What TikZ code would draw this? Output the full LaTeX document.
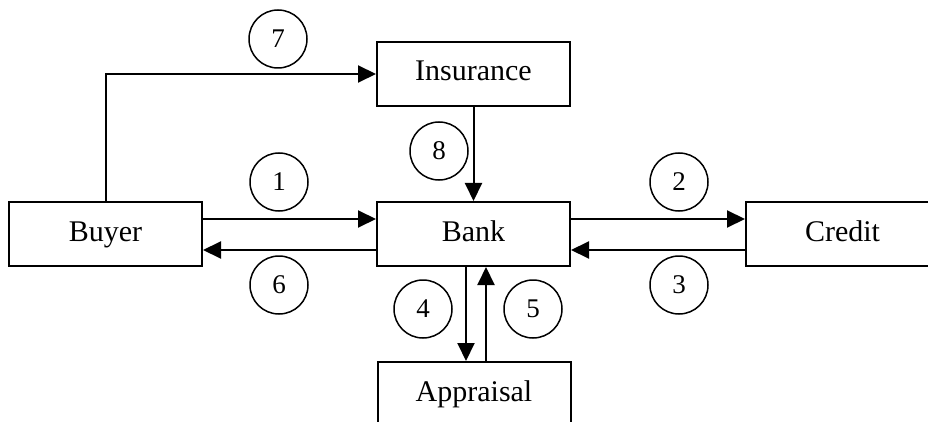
\documentclass[tikz,border=0pt]{standalone}
\usepackage{fontspec}
\setmainfont{Liberation Serif}
\usetikzlibrary{arrows.meta}
\begin{document}
\begin{tikzpicture}[x=1pt, y=-1pt,
  party/.style={draw, line width=2pt, minimum width=193pt, minimum height=64pt,
    inner sep=0pt, text height=21pt, text depth=7pt,
    font=\fontsize{30}{32}\selectfont},
  stepnum/.style={draw, circle, line width=1.5pt, minimum size=58pt, inner sep=0pt,
    font=\fontsize{27}{29}\selectfont},
  flow/.style={line width=2pt, -{Triangle[length=18pt, width=17pt]}}]
\useasboundingbox (0,0) rectangle (928,422);
\clip (0,0) rectangle (928,422);
\fill[white] (0,0) rectangle (928,422);

% parties
\node[party] (buyer) at (105.5,234) {Buyer};
\node[party] (bank) at (473.5,234) {Bank};
\node[party] (credit) at (842.5,234) {Credit};
\node[party] (insurance) at (473.5,74) {Insurance};
\node[party] (appraisal) at (474,394) {Appraisal};

% message flows
\draw[flow] (buyer.north) |- (insurance.west);
\draw[flow] (insurance.south) -- (bank.north);
\draw[flow] ([yshift=15pt]buyer.east) -- ([yshift=15pt]bank.west);
\draw[flow] ([yshift=-16pt]bank.west) -- ([yshift=-16pt]buyer.east);
\draw[flow] ([yshift=15pt]bank.east) -- ([yshift=15pt]credit.west);
\draw[flow] ([yshift=-16pt]credit.west) -- ([yshift=-16pt]bank.east);
\draw[flow] ([xshift=-7.5pt]bank.south) -- ([xshift=-8pt]appraisal.north);
\draw[flow] ([xshift=12pt]appraisal.north) -- ([xshift=12.5pt]bank.south);

% step numbers
\node[stepnum] (s1) at (279,182) {1};
\node[stepnum] (s2) at (679,182) {2};
\node[stepnum] (s3) at (679,285) {3};
\node[stepnum] (s4) at (423,309) {4};
\node[stepnum] (s5) at (533,309) {5};
\node[stepnum] (s6) at (279,285) {6};
\node[stepnum] (s7) at (278,39) {7};
\node[stepnum] (s8) at (439,151) {8};
\end{tikzpicture}
\end{document}
